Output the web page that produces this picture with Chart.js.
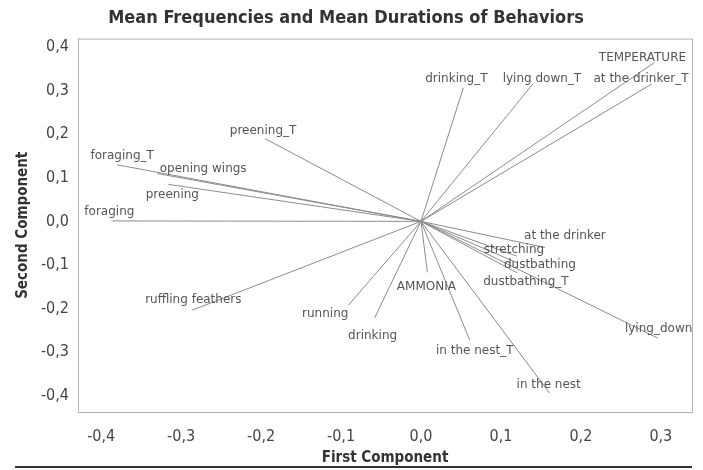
<!DOCTYPE html>
<html>
<head>
<meta charset="utf-8">
<script src="https://cdn.jsdelivr.net/npm/chart.js@4.4.0/dist/chart.umd.min.js"></script>
<style>
  html, body { margin: 0; padding: 0; background: #fff; }
  #wrap { width: 703px; height: 470px; }
</style>
</head>
<body>
<div id="wrap"><canvas id="biplot" width="703" height="470"></canvas></div>
<script>
// loadings (first component, second component)
var names = ['foraging', 'foraging_T', 'opening wings', 'preening', 'preening_T',
  'drinking_T', 'lying down_T', 'at the drinker_T', 'TEMPERATURE',
  'at the drinker', 'stretching', 'dustbathing', 'dustbathing_T', 'lying_down',
  'AMMONIA', 'in the nest_T', 'in the nest', 'drinking', 'running', 'ruffling feathers'];
var firstComp = [-0.386, -0.380, -0.330, -0.316, -0.195,
  0.053, 0.140, 0.289, 0.292,
  0.155, 0.120, 0.120, 0.120, 0.296,
  0.008, 0.061, 0.161, -0.058, -0.091, -0.286];
var secondComp = [0.001, 0.130, 0.110, 0.085, 0.190,
  0.307, 0.316, 0.316, 0.365,
  -0.060, -0.080, -0.095, -0.118, -0.268,
  -0.117, -0.273, -0.395, -0.222, -0.193, -0.204];
var xTicks = [-0.4, -0.3, -0.2, -0.1, 0.0, 0.1, 0.2, 0.3];
var yTicks = [-0.4, -0.3, -0.2, -0.1, 0.0, 0.1, 0.2, 0.3, 0.4];

// label offsets in pixels from the end of each vector (layout only)
var labelDx = [-3, 5, 46, 4, -2, -7, 9, -11, -12, 20, -3, 23, 9, 1, -1, 5, -1, -2, -23, 1];
var labelDy = [-9, -9, -5, 10, -8, -9, -5, -5, -5, -12, -6, 2, 9, -9, 15, 11, -8, 18, 8, -10];

var FONT = "'DejaVu Sans Condensed', 'DejaVu Sans', sans-serif";
var frameColor = '#b4b4b4';

function comma(v) {
  return (Math.abs(v) < 1e-9 ? 0 : v).toFixed(1).replace('.', ',');
}

var datasets = [];
for (var i = 0; i < names.length; i++) {
  datasets.push({
    label: names[i],
    data: [{x: 0, y: 0}, {x: firstComp[i], y: secondComp[i]}],
    showLine: true,
    borderColor: '#8c8c8c',
    borderWidth: 1,
    pointRadius: 0,
    pointHoverRadius: 0
  });
}

var labelPlugin = {
  id: 'labels',
  afterDatasetsDraw: function(chart) {
    var ctx = chart.ctx, xs = chart.scales.x, ys = chart.scales.y, a = chart.chartArea;
    ctx.save();
    ctx.strokeStyle = frameColor;
    ctx.lineWidth = 1;
    ctx.strokeRect(a.left + 0.5, a.top + 0.5, a.right - a.left, a.bottom - a.top);
    ctx.font = "12px 'DejaVu Sans', sans-serif";
    ctx.fillStyle = '#555';
    ctx.textAlign = 'center';
    ctx.textBaseline = 'middle';
    for (var i = 0; i < names.length; i++) {
      var px = xs.getPixelForValue(firstComp[i]) + labelDx[i];
      var py = ys.getPixelForValue(secondComp[i]) + labelDy[i];
      ctx.fillText(names[i], px, py);
    }
    // rule under the figure
    ctx.strokeStyle = '#333';
    ctx.lineWidth = 2;
    ctx.beginPath();
    ctx.moveTo(15, 467);
    ctx.lineTo(692, 467);
    ctx.stroke();
    ctx.restore();
  }
};

var ctx = document.getElementById('biplot').getContext('2d');
var myChart = new Chart(ctx, {
  type: 'scatter',
  data: { datasets: datasets },
  plugins: [labelPlugin],
  options: {
    responsive: false,
    animation: false,
    events: [],
    layout: { padding: { left: 0, right: 11, top: 0, bottom: 0 } },
    plugins: {
      legend: { display: false },
      tooltip: { enabled: false },
      title: {
        display: true,
        text: 'Mean Frequencies and Mean Durations of Behaviors',
        color: '#333',
        font: { family: FONT, size: 18, weight: 'bold' },
        padding: { top: 8, bottom: 9 }
      }
    },
    scales: {
      x: {
        type: 'linear',
        min: -0.429,
        max: 0.339,
        afterBuildTicks: function(s) { s.ticks = xTicks.map(function(v) { return {value: v}; }); },
        afterFit: function(s) { s.height = 58; },
        grid: { display: false, drawOnChartArea: false, drawTicks: true, tickLength: 6, color: frameColor },
        border: { display: true, color: frameColor },
        ticks: {
          color: '#444',
          padding: 9,
          maxRotation: 0,
          autoSkip: false,
          font: { family: FONT, size: 16 },
          callback: function(v) { return comma(v); }
        },
        title: {
          display: true,
          text: 'First Component',
          color: '#333',
          font: { family: FONT, size: 15, weight: 'bold' },
          padding: { top: 0, bottom: 3 }
        }
      },
      y: {
        type: 'linear',
        min: -0.438,
        max: 0.42,
        afterBuildTicks: function(s) { s.ticks = yTicks.map(function(v) { return {value: v}; }); },
        afterFit: function(s) { s.width = 78; },
        grid: { display: false, drawOnChartArea: false, drawTicks: true, tickLength: 6, color: frameColor },
        border: { display: true, color: frameColor },
        ticks: {
          color: '#444',
          padding: 3,
          autoSkip: false,
          font: { family: FONT, size: 16 },
          callback: function(v) { return comma(v); }
        },
        title: {
          display: true,
          text: 'Second Component',
          color: '#333',
          font: { family: FONT, size: 15, weight: 'bold' },
          padding: { top: 14, bottom: 0 }
        }
      }
    }
  }
});
</script>
</body>
</html>
